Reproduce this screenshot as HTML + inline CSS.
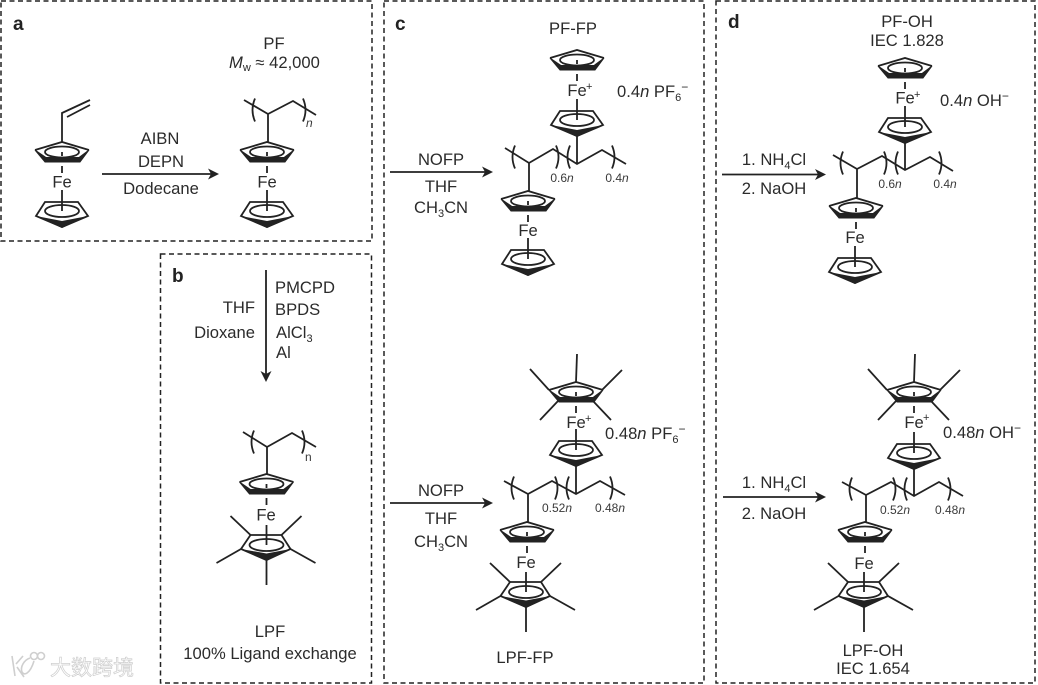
<!DOCTYPE html>
<html><head><meta charset="utf-8"><style>
html,body{margin:0;padding:0;background:#fff}
svg{display:block}
text{font-family:"Liberation Sans","Noto Sans CJK SC",sans-serif;font-size:16.6px;fill:#2b2b2b}
.m{text-anchor:middle}.e{text-anchor:end}
.b{font-weight:bold;font-size:19px;fill:#222}
.s{font-size:12px;fill:#3a3a3a}
.p{font-size:11px}
.box{fill:none;stroke:#222;stroke-width:1.5;stroke-dasharray:5 3.5}
.l{fill:none;stroke:#222;stroke-width:1.8}
.w{font-size:21px;fill:#fff;stroke:#cfcfcf;stroke-width:.7px}
</style></head><body>
<svg width="1038" height="685" viewBox="0 0 1038 685" xmlns="http://www.w3.org/2000/svg">
<defs>
<g id="U"><polyline class="l" points="-27,-2 0,-10 27,-2"/><polygon fill="#222" stroke="#222" stroke-width="1" points="-27,-2 -17,10 18,10 27,-2 17,5.500 -16,5.500"/><ellipse class="l" cx="0" cy="0" rx="17" ry="5.500"/><path class="l" d="M0,0V4M0,14V21"/></g>
<g id="L"><polygon class="l" points="-17,-9 -26,5 0,16 26,5 16,-9"/><polygon fill="#222" points="-26,5 0,17 26,5 0,10"/><ellipse class="l" cx="0" cy="0" rx="17" ry="6"/><path class="l" d="M0,-21V0"/></g>
<g id="UM"><use href="#U"/><path class="l" d="M0,-10L1,-38M-27,-2L-46,-23M-18,9L-36,28M17,9L35,28M26,-2L46,-22"/></g>
<g id="LM"><polygon class="l" points="-16,-10 -25.500,4 0,15 24,4 15,-10"/><polygon fill="#222" points="-25.500,4 0,16 24,4 0,8.500"/><ellipse class="l" cx="0" cy="0" rx="17" ry="6"/><path class="l" d="M0,-20V0M-16,-10L-36,-29M15,-10L35,-29M-25.500,4L-50,18M24,4L49,18M0,15V40"/></g>
<g id="ah"><polygon fill="#222" points="0,0 -11,-5.500 -8,0 -11,5.500"/></g>
<path id="bl" class="l" d="M2,-11.500Q-3,0 2,11.500"/>
<path id="br" class="l" d="M-2,-11.500Q3,0 -2,11.500"/>
</defs>

<rect class="box" x="1" y="1" width="371" height="240"/>
<rect class="box" x="160.500" y="254" width="211" height="429"/>
<rect class="box" x="384" y="1" width="320" height="682"/>
<rect class="box" x="716" y="1" width="319" height="682"/>

<!-- a -->
<text class="b" x="13" y="30">a</text>
<text class="m" x="274" y="49">PF</text>
<text x="229" y="68"><tspan font-style="italic">M</tspan><tspan font-size="11" dy="3">w</tspan><tspan dy="-3"> ≈ 42,000</tspan></text>
<use href="#U" x="62" y="152"/><use href="#L" x="62" y="211"/>
<text class="m" x="62" y="187.500">Fe</text>
<path class="l" d="M62,142V113L90,100M67,117L90,105"/>
<text class="m" x="160" y="144">AIBN</text>
<text class="m" x="161" y="167">DEPN</text>
<text class="m" x="161" y="194">Dodecane</text>
<path class="l" d="M102,174H212"/><use href="#ah" x="219" y="174"/>
<use href="#U" x="267" y="152"/><use href="#L" x="267" y="211"/>
<text class="m" x="267" y="187.500">Fe</text>
<path class="l" d="M244,100L268,114L293,101L316,115M268,114V142"/>
<use href="#bl" x="253" y="110"/><use href="#br" x="305" y="110"/>
<text class="s" x="306" y="127" font-style="italic">n</text>

<!-- b -->
<text class="b" x="172" y="282">b</text>
<path class="l" d="M266,270V376"/><use href="#ah" transform="translate(266,382) rotate(90)"/>
<text x="275" y="293">PMCPD</text>
<text x="275" y="315">BPDS</text>
<text x="276" y="338">AlCl<tspan font-size="11" dy="4">3</tspan></text>
<text x="276" y="358">Al</text>
<text class="e" x="255" y="313">THF</text>
<text class="e" x="255" y="338">Dioxane</text>
<use href="#U" x="266.500" y="484"/>
<text class="m" x="266" y="520.500">Fe</text>
<use href="#LM" x="266.500" y="545"/>
<path class="l" d="M243,432L267,447L292,433L316,447M267,447V474"/>
<use href="#bl" x="252" y="442"/><use href="#br" x="304" y="442"/>
<text class="s" x="305" y="461">n</text>
<text class="m" x="270" y="637">LPF</text>
<text class="m" x="270" y="659">100% Ligand exchange</text>

<!-- c top -->
<text class="b" x="395" y="30">c</text>
<text class="m" x="573" y="34">PF-FP</text>
<path class="l" d="M390,172H486"/><use href="#ah" x="493" y="172"/>
<text class="m" x="441" y="165">NOFP</text>
<text class="m" x="441" y="192">THF</text>
<text class="m" x="441" y="213">CH<tspan font-size="11" dy="4">3</tspan><tspan dy="-4">CN</tspan></text>
<use href="#U" x="577" y="60"/>
<text class="m" x="577" y="96">Fe</text><text class="p" x="586" y="90">+</text>
<use href="#L" x="577" y="120"/>
<text x="617" y="97">0.4<tspan font-style="italic">n</tspan> PF<tspan font-size="11" dy="4">6</tspan><tspan font-size="12" dy="-10">−</tspan></text>
<path class="l" d="M505,148L529,163L553,149L577,164L602,150L626,164M529,163V191M577,135V164"/>
<use href="#bl" x="513" y="157"/><use href="#br" x="558" y="157"/><use href="#bl" x="568" y="157"/><use href="#br" x="614" y="157"/>
<text class="s m" x="562" y="182">0.6<tspan font-style="italic">n</tspan></text>
<text class="s m" x="617" y="182">0.4<tspan font-style="italic">n</tspan></text>
<use href="#U" x="528" y="201"/>
<text class="m" x="528" y="236">Fe</text>
<use href="#L" x="528" y="259"/>

<!-- c bottom -->
<path class="l" d="M390,503H486"/><use href="#ah" x="493" y="503"/>
<text class="m" x="441" y="496">NOFP</text>
<text class="m" x="441" y="524">THF</text>
<text class="m" x="441" y="547">CH<tspan font-size="11" dy="4">3</tspan><tspan dy="-4">CN</tspan></text>
<use href="#UM" x="576" y="392"/>
<text class="m" x="576" y="428">Fe</text><text class="p" x="585" y="422">+</text>
<use href="#L" x="576" y="450"/>
<text x="605" y="439">0.48<tspan font-style="italic">n</tspan> PF<tspan font-size="11" dy="4">6</tspan><tspan font-size="12" dy="-10">−</tspan></text>
<path class="l" d="M504,481L528,494L552,481L576,494L600,481L625,495M528,494V522M576,465V494"/>
<use href="#bl" x="512" y="488"/><use href="#br" x="557" y="488"/><use href="#bl" x="567" y="488"/><use href="#br" x="612" y="488"/>
<text class="s m" x="557" y="512">0.52<tspan font-style="italic">n</tspan></text>
<text class="s m" x="610" y="512">0.48<tspan font-style="italic">n</tspan></text>
<use href="#U" x="527" y="532"/>
<text class="m" x="526" y="568">Fe</text>
<use href="#LM" x="526" y="592"/>
<text class="m" x="525" y="663">LPF-FP</text>

<!-- d top -->
<text class="b" x="728" y="28">d</text>
<text class="m" x="907" y="27">PF-OH</text>
<text class="m" x="907" y="46">IEC 1.828</text>
<path class="l" d="M722,174.500H819"/><use href="#ah" x="826" y="174.500"/>
<text class="m" x="774" y="165">1. NH<tspan font-size="11" dy="4">4</tspan><tspan dy="-4">Cl</tspan></text>
<text class="m" x="774" y="194">2. NaOH</text>
<use href="#U" x="905" y="68"/>
<text class="m" x="905" y="103.500">Fe</text><text class="p" x="914" y="98">+</text>
<use href="#L" x="905" y="127"/>
<text x="940" y="106">0.4<tspan font-style="italic">n</tspan> OH<tspan font-size="12" dy="-6">−</tspan></text>
<path class="l" d="M833,155L857,169L882,156L905,170L930,157L953,171M857,169V198M905,142V170"/>
<use href="#bl" x="841" y="163"/><use href="#br" x="886" y="163"/><use href="#bl" x="896" y="163"/><use href="#br" x="941" y="163"/>
<text class="s m" x="890" y="188">0.6<tspan font-style="italic">n</tspan></text>
<text class="s m" x="945" y="188">0.4<tspan font-style="italic">n</tspan></text>
<use href="#U" x="856" y="208"/>
<text class="m" x="855" y="243">Fe</text>
<use href="#L" x="855" y="267"/>

<!-- d bottom -->
<path class="l" d="M723,497H819"/><use href="#ah" x="826" y="497"/>
<text class="m" x="774" y="488">1. NH<tspan font-size="11" dy="4">4</tspan><tspan dy="-4">Cl</tspan></text>
<text class="m" x="774" y="519">2. NaOH</text>
<use href="#UM" x="914" y="392"/>
<text class="m" x="914" y="428">Fe</text><text class="p" x="923" y="421">+</text>
<use href="#L" x="914" y="453"/>
<text x="943" y="438">0.48<tspan font-style="italic">n</tspan> OH<tspan font-size="12" dy="-6">−</tspan></text>
<path class="l" d="M842,482L866,495L891,482L914,496L939,482L963,496M866,495V522M914,468V496"/>
<use href="#bl" x="850" y="489"/><use href="#br" x="895" y="489"/><use href="#bl" x="905" y="489"/><use href="#br" x="950" y="489"/>
<text class="s m" x="895" y="514">0.52<tspan font-style="italic">n</tspan></text>
<text class="s m" x="950" y="514">0.48<tspan font-style="italic">n</tspan></text>
<use href="#U" x="865" y="532"/>
<text class="m" x="864" y="569">Fe</text>
<use href="#LM" x="864" y="592"/>
<text class="m" x="873" y="656">LPF-OH</text>
<text class="m" x="873" y="674">IEC 1.654</text>

<!-- watermark -->
<g fill="none" stroke="#cfcfcf" stroke-width="1.6">
<path d="M12,656L15,676M16,664L23,656M17,667L24,677"/>
<path d="M34,661C30,674 24,676 22,672C20,667 24,660 30,658"/>
<circle cx="34" cy="656" r="3.500"/><circle cx="41" cy="656" r="3.500"/>
</g>
<text class="w" x="50" y="675">大数跨境</text>
</svg>
</body></html>
